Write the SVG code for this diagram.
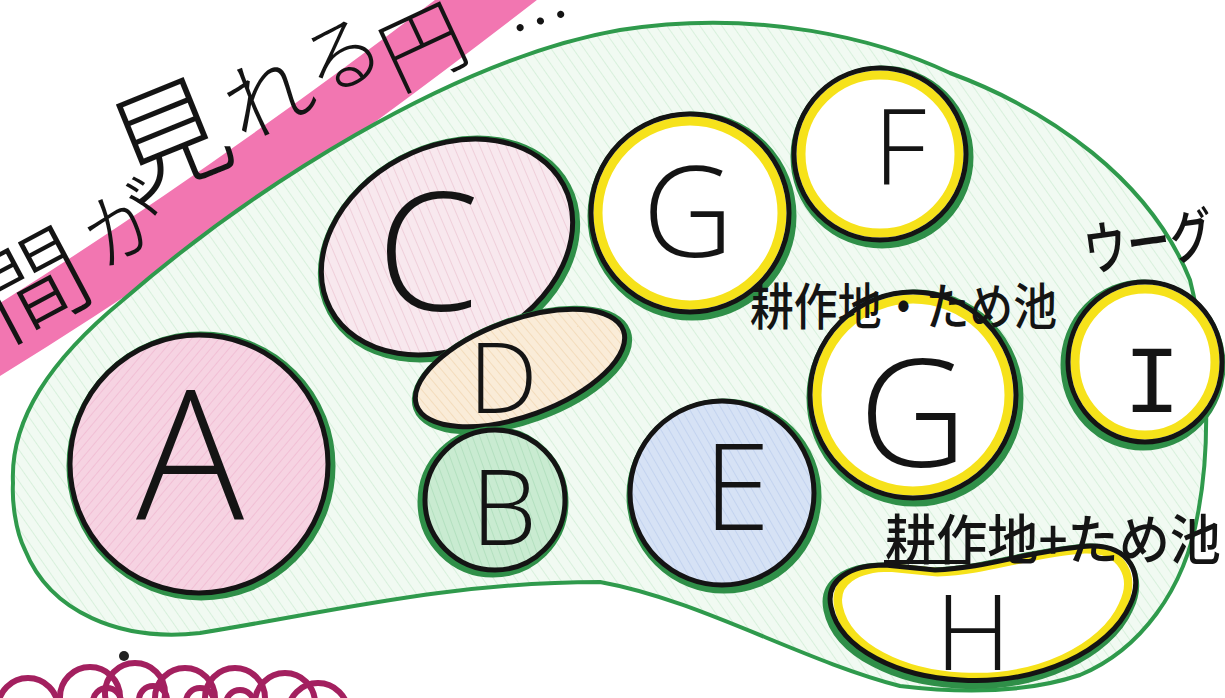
<svg xmlns="http://www.w3.org/2000/svg" width="1225" height="698" viewBox="0 0 1225 698">
<defs>
<pattern id="hatchGreen" patternUnits="userSpaceOnUse" width="9" height="9" patternTransform="rotate(-35)">
<rect width="9" height="9" fill="#f1faf2"/>
<line x1="0" y1="0" x2="0" y2="9" stroke="#d8f0dc" stroke-width="2"/>
</pattern>
<pattern id="hatchPink" patternUnits="userSpaceOnUse" width="7" height="7" patternTransform="rotate(40)">
<rect width="7" height="7" fill="#f6d3e2"/>
<line x1="0" y1="0" x2="0" y2="7" stroke="#f1bfd5" stroke-width="2"/>
</pattern>
<pattern id="hatchPinkV" patternUnits="userSpaceOnUse" width="8" height="8" patternTransform="rotate(5)">
<rect width="8" height="8" fill="#f8e8ee"/>
<line x1="0" y1="0" x2="0" y2="8" stroke="#ecc7d4" stroke-width="1.5"/>
</pattern>
<pattern id="hatchPeach" patternUnits="userSpaceOnUse" width="7" height="7" patternTransform="rotate(-20)">
<rect width="7" height="7" fill="#faecd8"/>
<line x1="0" y1="0" x2="0" y2="7" stroke="#f3dcbc" stroke-width="2"/>
</pattern>
<pattern id="hatchMint" patternUnits="userSpaceOnUse" width="7" height="7" patternTransform="rotate(-20)">
<rect width="7" height="7" fill="#c9ebd1"/>
<line x1="0" y1="0" x2="0" y2="7" stroke="#b3e0bf" stroke-width="2"/>
</pattern>
<pattern id="hatchBlue" patternUnits="userSpaceOnUse" width="7" height="7" patternTransform="rotate(-30)">
<rect width="7" height="7" fill="#d6e2f5"/>
<line x1="0" y1="0" x2="0" y2="7" stroke="#c3d3ef" stroke-width="2"/>
</pattern>
</defs>
<style>
.halo{fill:none;stroke:#2f8f48;stroke-width:11;}
.edge{fill:none;stroke:#141414;stroke-width:5;}
.ring{fill:none;stroke:#f6e21a;stroke-width:9;}
.letter{font-family:"Open Sans","Liberation Sans",sans-serif;font-weight:300;fill:#141414;text-anchor:middle;}
.jp{font-family:"Noto Sans CJK JP","Noto Sans",sans-serif;font-weight:500;fill:#141414;}
.title{font-family:"Noto Sans CJK JP","Noto Sans",sans-serif;fill:#141414;text-anchor:middle;font-weight:300;}
.loop{fill:none;stroke:#a3205f;stroke-width:6;}
</style>
<rect width="1225" height="698" fill="#ffffff"/>

<g id="title">
<path d="M -20 352 Q 235 195 525 -30" fill="none" stroke="#f276b1" stroke-width="62"/>
<text class="title" font-size="105" transform="translate(52,318) rotate(-28)">間</text>
<text class="title" font-size="80" transform="translate(138,250) rotate(-28)">が</text>
<text class="title" font-size="118" transform="translate(185,178) rotate(-22)">見</text>
<text class="title" font-size="88" transform="translate(282,125) rotate(-25)">れ</text>
<text class="title" font-size="80" transform="translate(354,82) rotate(-25)">る</text>
<text class="title" font-size="84" transform="translate(436,74) rotate(-25)">円</text>
<text class="title" font-size="64" font-weight="700" transform="translate(548,44) rotate(-18)">…</text>
</g>

<g id="region">
<path d="M 13 483 C 10 420, 50 360, 123 300 C 250 190, 450 60, 620 30 C 760 8, 880 40, 950 73 C 1050 110, 1150 180, 1190 280 C 1210 360, 1210 450, 1198 513 C 1185 590, 1140 650, 1080 675 C 1020 695, 950 692, 900 686 C 800 660, 700 600, 600 582 C 450 582, 330 612, 200 633 C 120 642, 50 612, 25 550 C 15 530, 12 500, 13 483 Z" fill="url(#hatchGreen)" stroke="#2f9a4c" stroke-width="4"/>
</g>

<g id="connectors"></g>

<g id="node-A">
<circle class="halo" cx="201" cy="466" r="129"/>
<circle cx="199" cy="464" r="129" fill="url(#hatchPink)" stroke="#141414" stroke-width="5"/>
<text class="letter" x="190" y="520" font-size="180">A</text>
</g>

<g id="node-C">
<ellipse class="halo" cx="449" cy="249" rx="132" ry="100" transform="rotate(-28 449 249)"/>
<ellipse cx="447" cy="247" rx="132" ry="100" transform="rotate(-28 447 247)" fill="url(#hatchPinkV)" stroke="#141414" stroke-width="5"/>
<text class="letter" x="428" y="310" font-size="165">C</text>
</g>

<g id="node-D">
<ellipse class="halo" cx="522" cy="370" rx="110" ry="48" transform="rotate(-20 522 370)"/>
<ellipse cx="520" cy="368" rx="110" ry="48" transform="rotate(-20 520 368)" fill="url(#hatchPeach)" stroke="#141414" stroke-width="5"/>
<text class="letter" x="503" y="413" font-size="98">D</text>
</g>

<g id="node-B">
<circle class="halo" cx="493" cy="502" r="70"/>
<circle cx="495" cy="500" r="70" fill="url(#hatchMint)" stroke="#141414" stroke-width="5"/>
<text class="letter" x="504" y="545" font-size="105">B</text>
</g>

<g id="node-E">
<circle class="halo" cx="724" cy="496" r="92"/>
<circle cx="722" cy="493" r="92" fill="url(#hatchBlue)" stroke="#141414" stroke-width="5"/>
<text class="letter" x="737" y="530" font-size="120">E</text>
</g>

<g id="node-G1">
<circle class="halo" cx="692" cy="216" r="99"/>
<circle cx="690" cy="213" r="99" fill="#ffffff"/>
<circle class="ring" cx="690" cy="213" r="92"/>
<circle class="edge" cx="690" cy="213" r="99"/>
<text class="letter" x="688" y="257" font-size="126">G</text>
</g>

<g id="node-F">
<circle class="halo" cx="882" cy="157" r="86"/>
<circle cx="880" cy="154" r="86" fill="#ffffff"/>
<circle class="ring" cx="880" cy="154" r="79"/>
<circle class="edge" cx="880" cy="154" r="86"/>
<text class="letter" x="900" y="185" font-size="105">F</text>
</g>

<g id="node-G2">
<circle class="halo" cx="915" cy="398" r="103"/>
<circle cx="913" cy="395" r="103" fill="#ffffff"/>
<circle class="ring" cx="913" cy="395" r="96"/>
<circle class="edge" cx="913" cy="395" r="103"/>
<text class="letter" x="913" y="467" font-size="150">G</text>
<text class="jp" x="750" y="325" font-size="50" textLength="307" lengthAdjust="spacingAndGlyphs">耕作地・ため池</text>
</g>

<g id="node-I">
<ellipse class="halo" cx="1143" cy="365" rx="77" ry="80"/>
<ellipse cx="1145" cy="362" rx="77" ry="80" fill="#ffffff"/>
<ellipse class="ring" cx="1145" cy="362" rx="70" ry="73"/>
<ellipse class="edge" cx="1145" cy="362" rx="77" ry="80"/>
<text x="1152" y="412" font-size="96" font-family="'Liberation Mono',monospace" fill="#141414" text-anchor="middle">I</text>
<text class="jp" x="1087" y="272" font-size="58" textLength="130" lengthAdjust="spacingAndGlyphs" transform="rotate(-8 1087 272)">ウーグ</text>
</g>

<g id="node-H">
<path class="halo" transform="translate(-2,3)" d="M 831 607 C 825 580, 850 565, 885 565 L 935 570 C 990 568, 1030 550, 1090 546 C 1130 545, 1145 575, 1130 605 C 1110 650, 1040 685, 960 680 C 900 677, 840 650, 831 607 Z"/>
<path fill="#ffffff" d="M 831 607 C 825 580, 850 565, 885 565 L 935 570 C 990 568, 1030 550, 1090 546 C 1130 545, 1145 575, 1130 605 C 1110 650, 1040 685, 960 680 C 900 677, 840 650, 831 607 Z"/>
<path class="ring" transform="translate(983 613) scale(0.95) translate(-983 -613)" d="M 831 607 C 825 580, 850 565, 885 565 L 935 570 C 990 568, 1030 550, 1090 546 C 1130 545, 1145 575, 1130 605 C 1110 650, 1040 685, 960 680 C 900 677, 840 650, 831 607 Z"/>
<path class="edge" d="M 831 607 C 825 580, 850 565, 885 565 L 935 570 C 990 568, 1030 550, 1090 546 C 1130 545, 1145 575, 1130 605 C 1110 650, 1040 685, 960 680 C 900 677, 840 650, 831 607 Z"/>
<text class="letter" x="973" y="670" font-size="105">H</text>
<text class="jp" x="885" y="560" font-size="54" textLength="336" lengthAdjust="spacingAndGlyphs">耕作地+ため池</text>
<line x1="884" y1="562" x2="968" y2="562" stroke="#141414" stroke-width="4"/>
</g>

<g id="loops">
<circle class="loop" cx="28" cy="708" r="30"/>
<circle class="loop" cx="90" cy="697" r="30"/>
<circle class="loop" cx="135" cy="693" r="30"/>
<circle class="loop" cx="185" cy="698" r="30"/>
<circle class="loop" cx="235" cy="698" r="30"/>
<circle class="loop" cx="285" cy="703" r="30"/>
<circle class="loop" cx="318" cy="713" r="30"/>
<circle class="loop" cx="107" cy="702" r="14"/>
<circle class="loop" cx="153" cy="700" r="14"/>
<circle class="loop" cx="200" cy="702" r="14"/>
<circle class="loop" cx="240" cy="704" r="14"/>
<circle cx="124" cy="656" r="5" fill="#222"/>
</g>
</svg>
